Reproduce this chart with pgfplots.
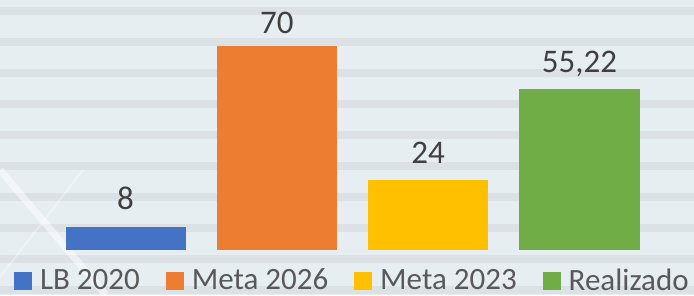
\documentclass[border=0pt]{standalone}
\usepackage{fontspec}
\setmainfont{Carlito}
\usepackage{pgfplots}
\pgfplotsset{compat=1.18}
\definecolor{bgbase}{HTML}{E7EEF2}
\definecolor{bgstripe}{HTML}{DCE1E5}
\definecolor{labeltext}{HTML}{404040}
\definecolor{legendtext}{HTML}{595959}
\definecolor{cblue}{HTML}{4472C4}
\definecolor{corange}{HTML}{ED7D31}
\definecolor{cyellow}{HTML}{FFC000}
\definecolor{cgreen}{HTML}{70AD47}
\pgfplotsset{sq/.style={legend image code/.code={\fill[##1] (0bp,-10bp) rectangle (18bp,8bp);}}}
\begin{document}
\begin{tikzpicture}[x=1bp,y=1bp]
\path[use as bounding box] (0,0) rectangle (694,295);
\clip (0,0) rectangle (694,295);
\fill[bgbase] (0,0) rectangle (694,295);
\foreach \p in {7,38,69,100,131,162,193,224,255,286} {
  \fill[bgstripe] (0,295-\p) rectangle (694,287-\p);
}
\draw[white, opacity=0.5, line width=7bp] (0,125) -- (106,0);
\draw[white, opacity=0.3, line width=2bp] (0,18) -- (83,125);
\begin{axis}[
  at={(49.85bp,45bp)}, anchor=south west,
  scale only axis, width=605.3bp, height=250bp,
  xmin=-0.5, xmax=3.5, ymin=0, ymax=85.8,
  hide axis, clip=false,
  ybar, bar width=120bp, bar shift=0pt,
  point meta=explicit symbolic,
  nodes near coords,
  every node near coord/.append style={anchor=base, yshift=17bp,
    font=\fontsize{33bp}{40bp}\selectfont, text=labeltext},
  legend columns=4,
  legend style={at={(-0.0592,-0.121)}, anchor=west, draw=none, fill=none,
    inner sep=0pt, outer sep=0pt,
    nodes={inner sep=0pt, text=legendtext, font=\fontsize{31bp}{37bp}\selectfont},
    /tikz/every odd column/.append style={column sep=8bp},
    /tikz/every even column/.append style={column sep=26bp}},
]
\addplot[fill=cblue, draw=none, sq] coordinates {(0,8) [8]};
\addlegendentry{LB 2020}
\addplot[fill=corange, draw=none, sq, every node near coord/.append style={yshift=-4bp}] coordinates {(1,70) [70]};
\addlegendentry{Meta 2026}
\addplot[fill=cyellow, draw=none, sq] coordinates {(2,24) [24]};
\addlegendentry{Meta 2023}
\addplot[fill=cgreen, draw=none, sq] coordinates {(3,55.22) [55,22]};
\addlegendentry{Realizado}
\end{axis}
\end{tikzpicture}
\end{document}
